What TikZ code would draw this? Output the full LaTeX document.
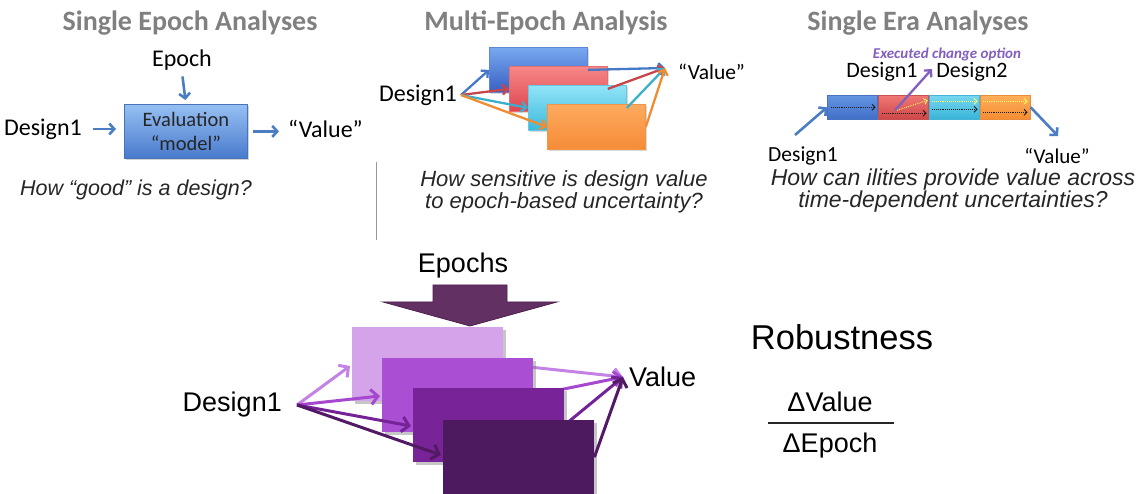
\documentclass[tikz,border=0pt]{standalone}
\usepackage{fontspec}
\setmainfont{Liberation Sans}
\newfontfamily\calfont{Carlito}
\usetikzlibrary{arrows.meta,shadows,calc}

\newcommand\fsz[2]{\fontsize{#1}{#2}\selectfont}

\definecolor{titlegray}{RGB}{128,128,128}
\definecolor{offblue}{RGB}{75,125,195}
\definecolor{optpurple}{RGB}{130,95,190}
% multi-epoch boxes
\definecolor{mbtop}{RGB}{120,168,240}\definecolor{mbbot}{RGB}{55,95,195}\definecolor{mbdraw}{RGB}{95,135,215}
\definecolor{mrtop}{RGB}{248,135,135}\definecolor{mrbot}{RGB}{220,70,80}\definecolor{mrdraw}{RGB}{230,110,110}
\definecolor{mctop}{RGB}{145,228,248}\definecolor{mcbot}{RGB}{60,185,218}\definecolor{mcdraw}{RGB}{100,200,230}
\definecolor{motop}{RGB}{252,170,95}\definecolor{mobot}{RGB}{246,140,55}\definecolor{modraw}{RGB}{240,150,70}
\definecolor{mbarr}{RGB}{70,120,200}\definecolor{mrarr}{RGB}{200,70,75}
\definecolor{mcarr}{RGB}{60,175,205}\definecolor{moarr}{RGB}{242,140,50}
% robustness boxes
\definecolor{pA}{RGB}{212,163,233}\definecolor{pB}{RGB}{170,79,212}
\definecolor{pC}{RGB}{120,36,152}\definecolor{pD}{RGB}{77,26,95}
\definecolor{aA}{RGB}{195,130,228}\definecolor{aB}{RGB}{165,72,207}
\definecolor{aC}{RGB}{115,35,150}\definecolor{aD}{RGB}{82,26,100}
\definecolor{epfill}{RGB}{98,48,98}\definecolor{epdraw}{RGB}{78,32,78}
\definecolor{dotyel}{RGB}{250,250,90}\definecolor{dotblk}{RGB}{30,30,30}

\tikzset{
  titletext/.style={font=\calfont\bfseries\fsz{28}{32}, text=titlegray, anchor=base},
  labeltext/.style={font=\calfont\fsz{24}{28}, inner sep=2pt},
  qtext/.style={font=\itshape\fsz{21.5}{22}, align=center, text=black!85},
  bigtext/.style={font=\fsz{27}{30}, inner sep=2pt},
  blarrow/.style={draw=offblue, line width=2.6pt, -{Straight Barb[length=5pt,width=11pt]}},
  marrow/.style={line width=2.3pt, -{Straight Barb[length=5pt,width=10pt]}},
  parrow/.style={line width=3pt, -{Straight Barb[length=7pt,width=15pt]}},
  dotarrow/.style={densely dotted, line width=0.9pt, -{Straight Barb[length=3pt,width=6pt]}},
  evalbox/.style={draw={rgb,255:red,70;green,115;blue,185}, line width=0.8pt,
    top color={rgb,255:red,150;green,192;blue,242}, bottom color={rgb,255:red,72;green,122;blue,205},
    minimum width=123pt, minimum height=54pt, anchor=north west, align=center,
    font=\calfont\fsz{20.5}{24}, text=black!85,
    drop shadow={shadow xshift=2pt, shadow yshift=-2pt, opacity=0.35}},
  mbox/.style={line width=0.8pt, minimum width=98pt, minimum height=45pt, anchor=north west,
    drop shadow={shadow xshift=2pt, shadow yshift=-2pt, opacity=0.3}},
  erabox/.style={line width=0.6pt, minimum width=50pt, minimum height=24pt, anchor=north west, inner sep=0pt},
  pbox/.style={minimum width=151pt, minimum height=74pt, anchor=north west, inner sep=0pt,
    drop shadow={shadow xshift=3pt, shadow yshift=-3pt, opacity=0.45}},
}

\begin{document}
\begin{tikzpicture}[x=1pt, y=-1pt]
\useasboundingbox (0,0) rectangle (1146,494);

% ---------------- Single epoch analyses ----------------
\node[titletext] (t1) at (190,31) {Single Epoch Analyses};
\node[labeltext] (ep) at (182,60) {Epoch};
\node[evalbox] (ev) at (124,104) {Evaluation\\“model”};
\node[labeltext, anchor=east] (d1) at (84,129) {Design1};
\node[labeltext, anchor=west] (v1) at (286,129) {“Value”};
\draw[blarrow, shorten <=9pt, shorten >=8pt] (d1.east) -- (d1.east -| ev.west);
\draw[blarrow, shorten <=4pt, shorten >=4pt] (ep.south) -- (ev.north);
\draw[blarrow, shorten <=5pt, shorten >=7pt] (ev.east) -- (ev.east -| v1.west);
\node[qtext] (q1) at (136,190) {How “good” is a design?};

% ---------------- Multi-epoch analysis ----------------
\node[titletext] (t2) at (546,31) {Multi-Epoch Analysis};
\node[labeltext, anchor=east] (d2) at (459,95) {Design1};
\coordinate (m0) at (461,95);
\coordinate (mv) at (665,68);
\node[labeltext, font=\calfont\fsz{21.5}{24}, anchor=west] (v2) at (676,72) {“Value”};

\node[mbox, draw=mbdraw, top color=mbtop, bottom color=mbbot] (m1) at (489,47) {};
\draw[marrow, mbarr] (m0) -- (m1.west);
\node[mbox, draw=mrdraw, top color=mrtop, bottom color=mrbot] (m2) at (509,66) {};
\draw[marrow, mrarr] (m0) -- (m2.west);
\node[mbox, draw=mcdraw, top color=mctop, bottom color=mcbot] (m3) at (528,85) {};
\draw[marrow, mcarr] (m0) -- (m3.west);
\node[mbox, draw=modraw, top color=motop, bottom color=mobot] (m4) at (547,104) {};
\draw[marrow, moarr] (m0) -- (m4.west);
\draw[marrow, mbarr] (m1.east) -- (mv);
\draw[marrow, mrarr] (m2.east) -- (mv);
\draw[marrow, mcarr] (m3.east) -- (mv);
\draw[marrow, moarr] (m4.east) -- (mv);

\coordinate (sepA) at (376,162);
\coordinate (sepB) at (376,240);
\draw[line width=0.8pt, black!40] (sepA) -- (sepB);
\node[qtext, font=\itshape\fsz{22}{22}] (q2) at (564,192) {How sensitive is design value\\to epoch-based uncertainty?};

% ---------------- Single era analyses ----------------
\node[titletext] (t3) at (918,31) {Single Era Analyses};
\node[font=\calfont\bfseries\itshape\fsz{15}{18}, text=optpurple, inner sep=1pt] (opt) at (947,55) {Executed change option};
\node[labeltext, font=\calfont\fsz{22}{26}] (e1lab) at (882,72) {Design1};
\node[labeltext, font=\calfont\fsz{22}{26}] (e2lab) at (972,72) {Design2};

\node[erabox, draw={rgb,255:red,70;green,115;blue,195}, top color={rgb,255:red,100;green,150;blue,225}, bottom color={rgb,255:red,65;green,110;blue,200}] (e1) at (827,95) {};
\node[erabox, draw={rgb,255:red,200;green,80;blue,80}, top color={rgb,255:red,240;green,120;blue,115}, bottom color={rgb,255:red,205;green,70;blue,72}] (e2) at (878,95) {};
\node[erabox, draw={rgb,255:red,70;green,180;blue,215}, top color={rgb,255:red,120;green,215;blue,240}, bottom color={rgb,255:red,55;green,180;blue,215}] (e3) at (929,95) {};
\node[erabox, draw={rgb,255:red,235;green,140;blue,60}, top color={rgb,255:red,252;green,175;blue,90}, bottom color={rgb,255:red,245;green,140;blue,50}] (e4) at (980,95) {};

% timelines inside the era segments
\draw[dotarrow, dotblk] ($(e1.west)+(4,0)$) -- ($(e1.east)+(-2,0)$);
\draw[dotarrow, dotblk] ($(e2.west)+(4,6)$) -- ($(e2.east)+(-2,6)$);
\draw[dotarrow, dotyel] ($(e2.west)+(19,3)$) -- ($(e2.east)+(-1,-7)$);
\draw[dotarrow, dotyel] ($(e3.west)+(3,-6)$) -- ($(e3.east)+(-2,-6)$);
\draw[dotarrow, dotblk] ($(e3.west)+(3,2)$) -- ($(e3.east)+(-2,2)$);
\draw[dotarrow, dotyel] ($(e4.west)+(3,-6)$) -- ($(e4.east)+(-3,-6)$);
\draw[dotarrow, dotblk] ($(e4.west)+(3,5)$) -- ($(e4.east)+(-3,5)$);

\coordinate (chg) at ($(e2.west)+(17,3)$);
\coordinate (chgtip) at (932,69);
\draw[optpurple, line width=2.3pt, -{Straight Barb[length=5pt,width=10pt]}] (chg) -- (chgtip);

\node[labeltext, font=\calfont\fsz{21.5}{24}] (d3) at (803,156) {Design1};
\node[labeltext, font=\calfont\fsz{21}{24}] (v3) at (1057,156) {“Value”};
\coordinate (d3src) at (795,135);
\coordinate (v3tip) at (1058,136);
\draw[blarrow] (d3src) -- (e1.west);
\draw[blarrow] (e4.east) -- (v3tip);
\node[qtext, font=\itshape\fsz{23}{22}] (q3) at (953,191) {How can ilities provide value across\\time-dependent uncertainties?};

% ---------------- Robustness ----------------
\node[bigtext] (eps) at (463,266) {Epochs};
\fill[epfill, draw=epdraw, line width=0.8pt]
  (433,285) -- (507,285) -- (507,302) -- (557,302) -- (470,326) -- (383,302) -- (433,302) -- cycle;

\node[bigtext, anchor=east] (d4) at (284,405) {Design1};
\coordinate (p0) at (297,405);
\coordinate (pv) at (623,377);
\node[bigtext, anchor=west] (v4) at (627,377) {Value};

\draw[parrow, aA] (p0) -- (350,366);
\node[pbox, fill=pA] (b1) at (352,327) {};
\draw[parrow, aA] (b1.east) -- (pv);
\draw[parrow, aB] (p0) -- (380,396);
\node[pbox, fill=pB] (b2) at (382,358) {};
\draw[parrow, aB] (b2.east) -- (pv);
\draw[parrow, aC] (p0) -- (411,426);
\node[pbox, fill=pC] (b3) at (413,388) {};
\draw[parrow, aC] (b3.east) -- (pv);
\draw[parrow, aD] (p0) -- (441,455);
\node[pbox, fill=pD] (b4) at (443,420) {};
\draw[parrow, aD] (b4.east) -- (pv);

\node[font=\fsz{34.5}{38}] (rob) at (842,337) {Robustness};
\node[bigtext, anchor=base] (num) at (830,411) {ΔValue};
\node[bigtext, anchor=base] (den) at (830,452) {ΔEpoch};
\coordinate (fracL) at (768,423);
\coordinate (fracR) at (894,423);
\draw[line width=2pt, black!85] (fracL) -- (fracR);
\end{tikzpicture}
\end{document}
